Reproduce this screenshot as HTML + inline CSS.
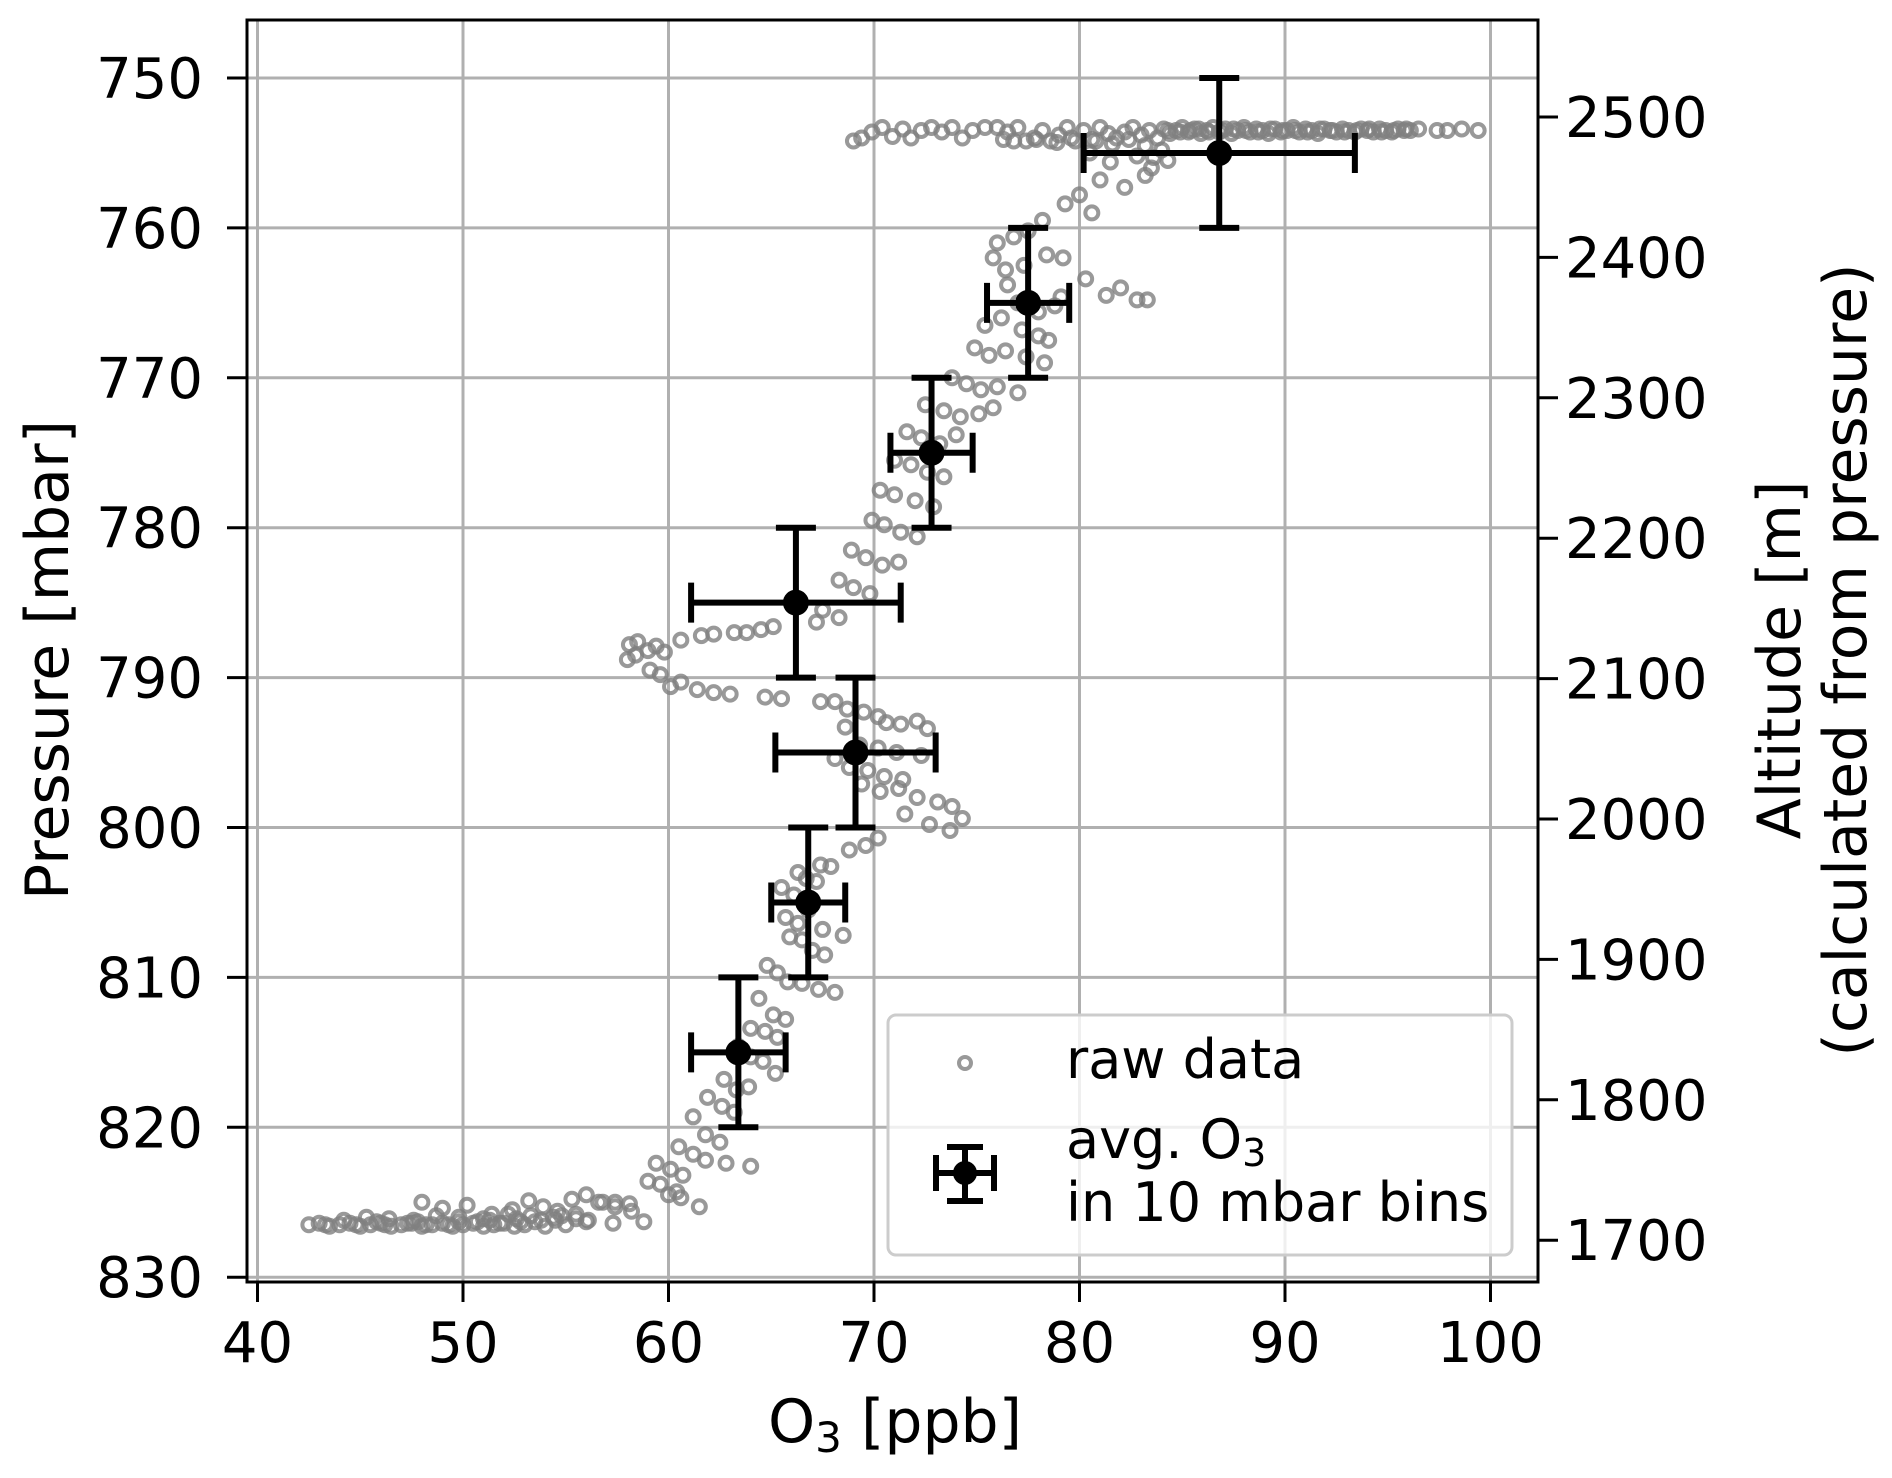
<!DOCTYPE html>
<html><head><meta charset="utf-8"><style>
html,body{margin:0;padding:0;background:#fff;}
svg{display:block;font-family:"DejaVu Sans","Liberation Sans",sans-serif;}
</style></head><body>
<svg id="chart" width="1892" height="1478" viewBox="0 0 1892 1478">
<g id="grid"></g>
<g id="scatter"></g>
<g id="errs"></g>
<g id="axes"></g>
<g id="legend">
 <rect x="888" y="1015" width="624" height="240" rx="8" fill="rgba(255,255,255,0.8)" stroke="#cccccc" stroke-width="3"/>
 <circle cx="965" cy="1063" r="6" fill="none" stroke="#808080" stroke-opacity="0.8" stroke-width="4"/>
 <text x="1066" y="1078" font-size="54">raw data</text>
 <g stroke="#000" stroke-width="6">
  <line x1="936" y1="1173" x2="994" y2="1173"/><line x1="965" y1="1147" x2="965" y2="1201"/>
  <line x1="936" y1="1155" x2="936" y2="1191"/><line x1="994" y1="1155" x2="994" y2="1191"/>
  <line x1="947" y1="1147" x2="983" y2="1147"/><line x1="947" y1="1201" x2="983" y2="1201"/>
  <circle cx="965" cy="1173" r="12" fill="#000" stroke="none"/>
 </g>
 <text x="1066" y="1158" font-size="54">avg. O<tspan font-size="38" dy="8">3</tspan></text>
 <text x="1066" y="1221" font-size="54">in 10 mbar bins</text>
</g>
<text x="895" y="1442" font-size="60" text-anchor="middle">O<tspan font-size="42" dy="10">3</tspan><tspan dy="-10"> [ppb]</tspan></text>
<text transform="translate(68,660) rotate(-90)" font-size="60" text-anchor="middle">Pressure [mbar]</text>
<text transform="translate(1800,660) rotate(-90)" font-size="60" text-anchor="middle">Altitude [m]</text>
<text transform="translate(1866,660) rotate(-90)" font-size="60" text-anchor="middle">(calculated from pressure)</text>
</svg>
<script>
const xTicks=[40,50,60,70,80,90,100];
const yTicks=[750,760,770,780,790,800,810,820,830];
const altTicks=[1700,1800,1900,2000,2100,2200,2300,2400,2500];
const binP=[755,765,775,785,795,805,815];
const binO3=[86.8,77.5,72.8,66.2,69.1,66.8,63.4];
const binO3Err=[6.6,2.0,2.0,5.1,3.9,1.8,2.3];
const binPErr=[5,5,5,5,5,5,5];
// raw data as [O3, pressure] pairs, by segment
const rawTop=[[69,754.2],[69.4,754],[69.9,753.6],[70.4,753.3],[70.9,753.9],[71.4,753.4],[71.8,754],[72.3,753.5],[72.8,753.3],[73.3,753.6],[73.8,753.3],[74.3,754],[74.8,753.5],[75.4,753.3],[76,753.3],[76.5,753.6],[77,753.3],[77.4,754.2],[77.8,754],[78.2,753.5],[78.6,754.2],[79,753.8],[79.4,753.3],[79.8,754.2],[80.2,753.5],[80.6,754.1],[81,753.3],[81.4,753.7],[81.8,754],[82.2,753.6],[82.6,753.3],[83,753.8],[83.4,753.5],[83.8,754],[84.1,753.4],[84.4,753.7],[84.7,753.5],[85,753.3],[85.3,753.6],[85.6,753.4],[85.9,753.7],[86.2,753.5],[86.5,753.3],[86.8,753.6],[87.1,753.4],[87.4,753.7],[87.7,753.5],[88,753.3],[88.3,753.6],[88.6,753.4],[88.9,753.5],[89.2,753.7],[89.5,753.4],[89.8,753.6],[90.1,753.5],[90.4,753.3],[90.7,753.6],[91,753.4],[91.3,753.5],[91.6,753.7],[91.9,753.4],[92.2,753.5],[92.5,753.6],[92.8,753.4],[93.1,753.5],[93.4,753.6],[93.7,753.4],[94,753.5],[94.3,753.6],[94.6,753.4],[94.9,753.5],[95.2,753.6],[95.5,753.4],[95.8,753.5],[96.1,753.5],[96.5,753.4],[97.4,753.5],[97.9,753.5],[98.6,753.4],[99.4,753.5],
[84.3,753.5],[84.9,753.6],[85.4,753.5],[85.8,753.4],[86.3,753.6],[86.9,753.5],[87.5,753.4],[88.1,753.5],[88.7,753.6],[89.3,753.4],[89.9,753.5],[90.5,753.5],[91.1,753.6],[91.7,753.4],[92.3,753.5],[92.9,753.6],[93.5,753.5],[94.1,753.4],[94.7,753.6],[95.3,753.5],[95.9,753.4],[76.3,754.1],[76.8,754.2],[77.9,754.1],[78.9,754.3],[79.6,754],[80.8,754.2],[81.6,754.4],[82.4,754.1],[83.2,754.5],[84,754.8],[83.6,755.3]];
const rawMid=[[80.5,755],[81.5,755.6],[82.8,755.2],[83.5,756],[84.3,755.5],[81,756.8],[82.2,757.3],[83.2,756.5],[80,757.8],[79.3,758.4],[80.6,759],[78.2,759.5],[77.5,760.2],[76.8,760.6],[76,761],[75.8,762],[76.4,762.8],[77.3,762.5],[78.4,761.8],[79.2,762],[80.3,763.4],[81.3,764.5],[82,764],[82.8,764.8],[83.3,764.8],[76.5,763.8],[77,765],[78,765.6],[78.8,765.2],[79.1,764.6],[75.4,766.5],[76.2,766],[77.2,766.8],[78,767.2],[78.5,767.5],[74.9,768],[75.6,768.5],[76.4,768.2],[77.4,768.6],[78.3,769],[73.8,770],[74.5,770.4],[75.2,770.8],[76,770.6],[77,771],[72.5,771.8],[73.4,772.2],[74.2,772.6],[75.1,772.4],[75.8,772],[71.6,773.6],[72.3,774],[73.2,774.4],[74,773.8],[71,775.5],[71.8,775.8],[72.6,776.3],[73.4,776.6],[70.3,777.5],[71,777.8],[72,778.2],[72.9,778.6],[69.9,779.5],[70.5,779.8],[71.3,780.3],[72.1,780.6],[68.9,781.5],[69.6,782],[70.4,782.5],[71.2,782.3],[68.3,783.5],[69,784],[69.8,784.4],[67.5,785.5],[68.3,786],[67.2,786.3],[65.1,786.6],[64.5,786.8],[63.8,787],[63.2,787],[62.2,787.1],[61.6,787.2],[60.6,787.5],[58.1,787.8],[58.5,787.6],[59,788.2],[59.4,787.9],[59.8,788.3],[58,788.8],[58.4,788.5],[59.1,789.5],[59.6,789.8],[60.1,790.6],[60.6,790.3],[61.4,790.8],[62.2,791],[63,791.1],[64.7,791.3],[65.5,791.4],[67.4,791.6],[68.1,791.6],[68.7,792.1],[69.5,792.3],[70.2,792.6],[70.6,793],[71.3,793.1],[72.1,792.9],[72.6,793.4],[68.6,793.3],[69.3,794.5],[70.2,794.7],[71.1,795],[72.3,795.2],[68.1,795.4],[68.8,796],[69.7,796.2],[70.5,796.6],[71.4,796.8],[69.4,797.1],[70.3,797.6],[71.2,797.4],[72.1,798],[73.1,798.3],[73.8,798.6],[74.3,799.4],[71.5,799.1],[72.7,799.8],[73.7,800.2],[70.2,800.7],[69.6,801.2],[68.8,801.5],[67.4,802.5],[67.9,802.6],[66.3,803],[66.7,803.4],[67.2,803.6],[65.5,804],[66.1,804.5],[66.8,805.5],[65.7,806],[66.3,806.4],[67.5,806.8],[68.5,807.2],[65.9,807.3],[66.5,807.5],[67,808.2],[67.6,808.5],[64.8,809.2],[65.3,809.7],[65.8,810.3],[66.5,810.4],[67.3,810.8],[68.1,811],[64.4,811.4],[65.1,812.5],[65.7,812.8],[64,813.4],[64.7,813.6],[65.3,814],[63.4,814.6],[64,815.3],[64.6,815.6],[65.2,816.4],[62.7,816.8],[63.3,817.5],[63.9,817.3],[61.9,818],[62.6,818.6],[63.2,819],[61.2,819.3],[61.8,820.5],[62.5,821],[60.5,821.3],[61.2,821.8],[61.8,822.2],[59.4,822.4],[60.1,822.8],[60.7,823.2],[59,823.6],[59.6,823.8],[60.4,824.3],[62.8,822.4],[64,822.6],[60,824.5],[60.6,824.7],[61.5,825.3],[58.2,825.6],[58.8,826.3]];
const rawBottom=[[57.4,825],[58.1,825.1],[56.8,825],[57.4,825.3],[55.3,824.8],[56,824.5],[56.6,825],[48,825],[49,825.4],[50.2,825.2],[51.4,825.8],[52.4,825.5],[53.2,824.9],[53.9,825.3],[54.6,825.6],[55.5,825.8],[56.1,826.2],[57.3,826.4],
[42.5,826.5],[43,826.4],[43.5,826.6],[44,826.5],[44.5,826.4],[45,826.6],[45.5,826.5],[46,826.4],[46.5,826.6],[47,826.5],[47.5,826.4],[48,826.6],[48.5,826.5],[49,826.4],[49.5,826.6],[50,826.5],[50.5,826.4],[51,826.6],[51.5,826.5],[52,826.4],[52.5,826.6],[53,826.5],[53.5,826.3],[54,826.6],[54.5,826.2],[55,826.5],[55.5,826.1],[56,826.3],[44.2,826.2],[45.3,826],[46.4,826.1],[47.6,826.2],[48.7,825.9],[49.8,826],[51,826.1],[52.2,825.8],[53.3,825.9],[54.4,826],
[43.3,826.5],[44.8,826.5],[46.2,826.5],[47.3,826.4],[48.2,826.5],[49.3,826.5],[50.7,826.3],[51.8,826.4],[52.8,826.3],[53.8,826.2],[45.8,826.3],[47.8,826.3],[49.8,826.3],[51.3,826.2],[52.6,826.1],[54.8,825.9]];

const rawO3=[],rawP=[];
[rawTop,rawMid,rawBottom].forEach(seg=>seg.forEach(d=>{rawO3.push(d[0]);rawP.push(d[1]);}));

const NS="http://www.w3.org/2000/svg";
const L=247,R=1538,T=20,B=1282;
const X=v=>257.5+(v-40)*20.55;
const Y=p=>78+(p-750)*14.99;
const YA=a=>117+(2500-a)*1.404;
function mk(tag,attrs,parent){const e=document.createElementNS(NS,tag);for(const k in attrs)e.setAttribute(k,attrs[k]);parent.appendChild(e);return e;}
const grid=document.getElementById('grid'),axes=document.getElementById('axes'),sc=document.getElementById('scatter'),er=document.getElementById('errs');
mk('rect',{x:L,y:T,width:R-L,height:B-T,fill:'#fff'},grid);
xTicks.forEach(v=>{
 const g=mk('line',{x1:X(v),x2:X(v),y1:T,y2:B,stroke:'#b0b0b0','stroke-width':3},grid);
 
 
 mk('line',{x1:X(v),x2:X(v),y1:B,y2:B+20,stroke:'#000','stroke-width':3},axes);
 const t=mk('text',{x:X(v),y:1362,'font-size':56,'text-anchor':'middle'},axes);
 t.textContent=v;
 
 
});
yTicks.forEach(v=>{
 const g=mk('line',{x1:L,x2:R,y1:Y(v),y2:Y(v),stroke:'#b0b0b0','stroke-width':3},grid);
 
 
 mk('line',{x1:L-20,x2:L,y1:Y(v),y2:Y(v),stroke:'#000','stroke-width':3},axes);
 const t=mk('text',{x:203,y:Y(v)+20,'font-size':56,'text-anchor':'end'},axes);
 t.textContent=v;
 
 
});
altTicks.forEach(v=>{
 mk('line',{x1:R,x2:R+20,y1:YA(v),y2:YA(v),stroke:'#000','stroke-width':3},axes);
 const t=mk('text',{x:1565,y:YA(v)+20,'font-size':56},axes);
 t.textContent=v;
 
 
});
mk('rect',{x:L,y:T,width:R-L,height:B-T,fill:'none',stroke:'#000','stroke-width':3},axes);
rawO3.forEach((v,i)=>{
 const c=mk('circle',{cx:X(v),cy:Y(rawP[i]),r:6.5,fill:'none',stroke:'#808080','stroke-opacity':0.8,'stroke-width':4},sc);
 
 
});
binP.forEach((p,i)=>{
 const g=mk('g',{stroke:'#000','stroke-width':6},er);
 
 
 const x0=X(binO3[i]-binO3Err[i]),x1=X(binO3[i]+binO3Err[i]),y0=Y(p-binPErr[i]),y1=Y(p+binPErr[i]),cx=X(binO3[i]),cy=Y(p);
 mk('line',{x1:x0,x2:x1,y1:cy,y2:cy},g);
 mk('line',{x1:cx,x2:cx,y1:y0,y2:y1},g);
 mk('line',{x1:x0,x2:x0,y1:cy-20,y2:cy+20},g);
 mk('line',{x1:x1,x2:x1,y1:cy-20,y2:cy+20},g);
 mk('line',{x1:cx-20,x2:cx+20,y1:y0,y2:y0},g);
 mk('line',{x1:cx-20,x2:cx+20,y1:y1,y2:y1},g);
 mk('circle',{cx:cx,cy:cy,r:13,fill:'#000',stroke:'none'},g);
});
</script>
</body></html>
